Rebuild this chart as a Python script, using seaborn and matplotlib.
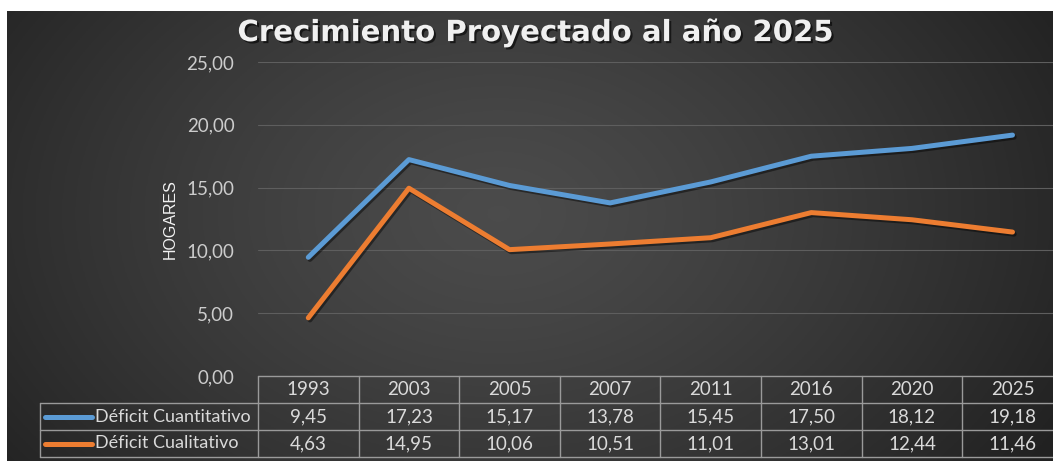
import numpy as np
import pandas as pd
import matplotlib
matplotlib.use("Agg")
import matplotlib.pyplot as plt
import matplotlib.patheffects as pe
import matplotlib.transforms as mtransforms
import seaborn as sns

# --------------------------------------------------------------
# Datos
# --------------------------------------------------------------
anios = ["1993", "2003", "2005", "2007", "2011", "2016", "2020", "2025"]
deficit_cuantitativo = [9.45, 17.23, 15.17, 13.78, 15.45, 17.50, 18.12, 19.18]
deficit_cualitativo = [4.63, 14.95, 10.06, 10.51, 11.01, 13.01, 12.44, 11.46]
series = ["Déficit Cuantitativo", "Déficit Cualitativo"]
colores = ["#5B9BD5", "#ED7D31"]
titulo = "Crecimiento Proyectado al año 2025"
eje_y = "HOGARES"
y_ticks = [0, 5, 10, 15, 20, 25]

df = pd.DataFrame({
    "pos": list(range(len(anios))) * 2,
    "valor": deficit_cuantitativo + deficit_cualitativo,
    "serie": [series[0]] * len(anios) + [series[1]] * len(anios),
})

def coma(v):
    return f"{v:.2f}".replace(".", ",")

# --------------------------------------------------------------
# Figura y fondo degradado
# --------------------------------------------------------------
sns.set_theme(style="dark")
W, H = 1053, 463
fig = plt.figure(figsize=(W / 100, H / 100), dpi=100)
fig.patch.set_facecolor("white")

bg = fig.add_axes([7 / W, (H - 461) / H, (W - 7) / W, (461 - 11) / H])
gx, gy = np.meshgrid(np.linspace(0, 1, 400), np.linspace(0, 1, 200))
d = np.sqrt(((gx - 0.47) / 0.62) ** 2 + ((gy - 0.45) / 1.0) ** 2)
shade = 0.295 - 0.165 * np.clip(d, 0, 1) ** 1.3
bg.imshow(np.dstack([shade] * 3), aspect="auto", extent=[0, 1, 0, 1])
bg.axis("off")

# --------------------------------------------------------------
# Gráfico de líneas
# --------------------------------------------------------------
col_w = 100.6
ax = fig.add_axes([258 / W, (H - 376) / H, col_w * len(anios) / W, 314 / H])
ax.patch.set_alpha(0)
sns.lineplot(data=df, x="pos", y="valor", hue="serie", palette=colores,
             linewidth=3.6, legend=False, ax=ax, solid_capstyle="round",
             path_effects=[pe.SimpleLineShadow(offset=(1.2, -1.5), shadow_color="black", alpha=0.45),
                           pe.Normal()])
ax.set_xlim(-0.5, len(anios) - 0.5)
ax.set_ylim(0, 25)
ax.set_yticks(y_ticks)
ax.set_yticklabels([coma(v) for v in y_ticks], color="#cccccc", fontsize=13.5, family="Lato")
ax.set_xticks([])
ax.set_xlabel("")
ax.set_ylabel(eje_y, color="#f2f2f2", fontsize=11.5, family="Liberation Sans")
ax.yaxis.set_label_coords(-0.10, 0.5)
ax.tick_params(axis="y", length=0, pad=17)
ax.grid(axis="y", color="#5e5e5e", linewidth=0.8)
ax.grid(axis="x", visible=False)
for s in ax.spines.values():
    s.set_visible(False)

# --------------------------------------------------------------
# Tabla de datos
# --------------------------------------------------------------
tr = mtransforms.blended_transform_factory(ax.transData, ax.transAxes)
fila = 27 / 314
borde = "#9a9a9a"
x_izq = -0.5 - 218 / col_w
x_der = len(anios) - 0.5
n = len(anios)

# líneas horizontales
ax.plot([-0.5, x_der], [0, 0], transform=tr, color=borde, lw=1, clip_on=False)
for k in (1, 2, 3):
    ax.plot([x_izq, x_der], [-k * fila] * 2, transform=tr, color=borde, lw=1, clip_on=False)
# líneas verticales
ax.plot([x_izq, x_izq], [-fila, -3 * fila], transform=tr, color=borde, lw=1, clip_on=False)
for i in range(n + 1):
    ax.plot([i - 0.5, i - 0.5], [0, -3 * fila], transform=tr, color=borde, lw=1, clip_on=False)

txt = dict(transform=tr, ha="center", va="center", fontsize=13.5, family="Lato",
           color="#dadada", clip_on=False)
for i, a in enumerate(anios):
    ax.text(i, -0.5 * fila, a, **txt)
for r, (nombre, valores, c) in enumerate(zip(series, [deficit_cuantitativo, deficit_cualitativo], colores)):
    yc = -(1.5 + r) * fila
    for i, v in enumerate(valores):
        ax.text(i, yc, coma(v), **txt)
    ax.plot([x_izq + 0.05, x_izq + 0.52], [yc, yc], transform=tr, color=c, lw=3.6,
            solid_capstyle="round", clip_on=False)
    ax.text(x_izq + 0.55, yc, nombre, transform=tr, ha="left", va="center", fontsize=13,
            family="Lato", color="#dadada", clip_on=False)

# --------------------------------------------------------------
# Título
# --------------------------------------------------------------
fig.text(0.508, (H - 33) / H, titulo, ha="center", va="center", fontsize=21,
         weight="bold", family="DejaVu Sans", color="#f0f0f0",
         path_effects=[pe.withSimplePatchShadow(offset=(1.5, -1.5), shadow_rgbFace="black", alpha=0.6)])

fig.savefig("out.png", dpi=100, facecolor=fig.get_facecolor())
